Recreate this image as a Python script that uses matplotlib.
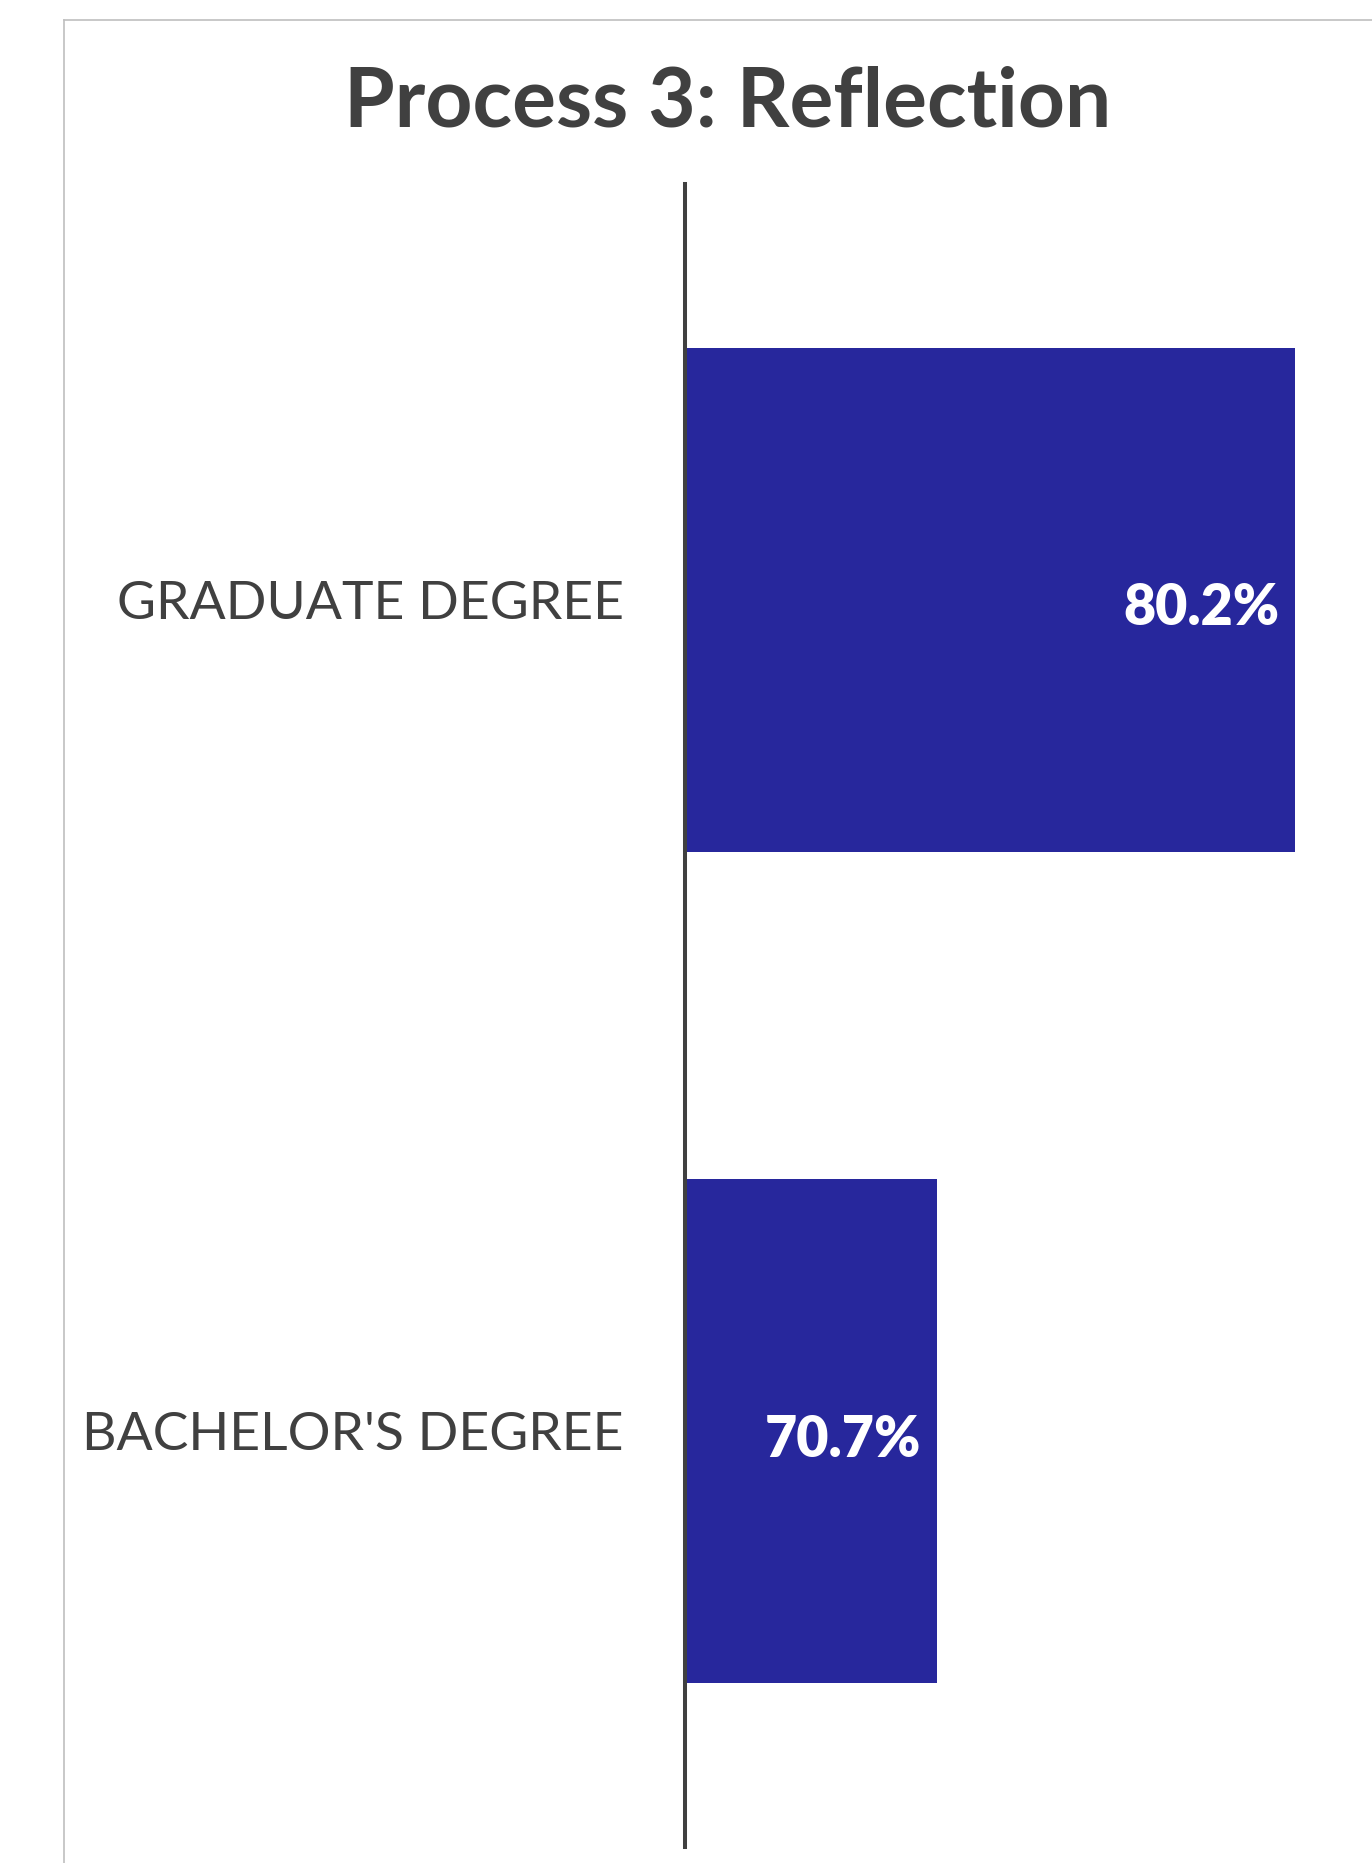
import matplotlib.pyplot as plt
from matplotlib.lines import Line2D

plt.rcParams['font.family'] = ['Lato', 'DejaVu Sans']

categories = ["GRADUATE DEGREE", "BACHELOR'S DEGREE"]
values = [80.2, 70.7]
value_labels = ["80.2%", "70.7%"]

W, H = 1372, 1863
fig = plt.figure(figsize=(W / 100, H / 100), dpi=100)

# chart frame (only left and top edges visible)
fig.add_artist(Line2D([64 / W, 64 / W], [0, 1 - 20 / H], color="#BFBFBF", lw=1.2))
fig.add_artist(Line2D([64 / W, 1], [1 - 20 / H, 1 - 20 / H], color="#BFBFBF", lw=1.2))

ax = fig.add_axes([685 / W, 1 - 1847 / H, (1363 - 685) / W, (1847 - 184) / H])

ypos = list(range(len(categories)))
ax.barh(ypos, values, height=0.606, left=0, color="#27279C", edgecolor="none")
ax.set_xlim(64, 82)
ax.set_ylim(1.5, -0.5)

for y, v, lab in zip(ypos, values, value_labels):
    ax.text(v - 0.42, y + 0.01, lab, ha="right", va="center", color="white",
            fontsize=40, fontweight="heavy")

ax.set_yticks(ypos)
ax.set_yticklabels(categories, fontsize=38.5, color="#404040")
ax.tick_params(axis="y", length=0, pad=44)
ax.set_xticks([])

for s in ["top", "right", "bottom"]:
    ax.spines[s].set_visible(False)
ax.spines["left"].set_color("#404040")
ax.spines["left"].set_linewidth(2.9)

fig.text(728 / W, 1 - 103 / H, "Process 3: Reflection", ha="center", va="center",
         fontsize=59, fontweight="bold", color="#404040")

fig.savefig("out.png", dpi=100, facecolor="white")
